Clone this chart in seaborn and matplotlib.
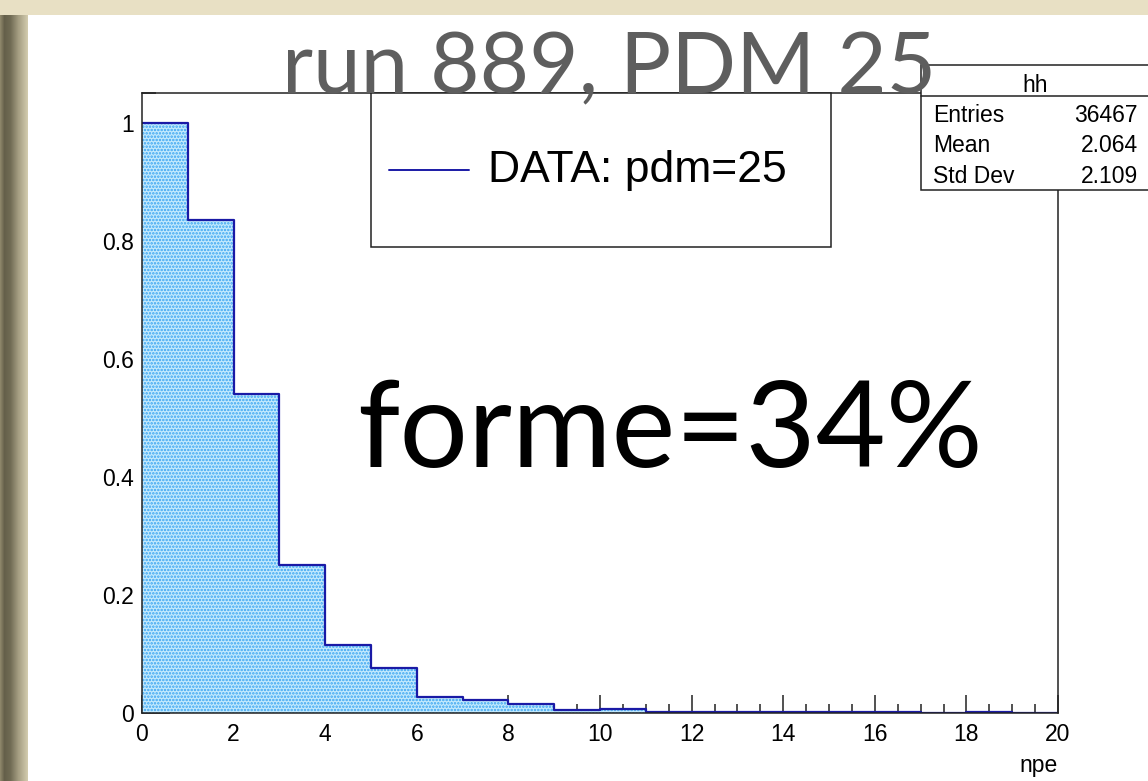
import numpy as np
import pandas as pd
import matplotlib
matplotlib.use("Agg")
import matplotlib.pyplot as plt
from matplotlib.patches import Rectangle
from matplotlib.ticker import MultipleLocator, FuncFormatter
import seaborn as sns

# Normalised npe distribution, one value per unit bin from 0 to 20
bin_edges = list(range(0, 21))
bin_heights = [1.0, 0.836, 0.541, 0.251, 0.115, 0.076, 0.027, 0.022, 0.015, 0.005,
               0.007, 0.002, 0.002, 0.002, 0.002, 0.002, 0.002, 0.0, 0.0015, 0.0]

title_text = "run 889, PDM 25"
legend_label = "DATA: pdm=25"
note_text = "forme=34%"
stats_name = "hh"
stats_labels = ["Entries", "Mean", "Std Dev"]
stats_values = ["36467", "2.064", "2.109"]

sns.set_theme(style="white")
plt.rcParams["font.family"] = ["Liberation Sans", "DejaVu Sans"]
plt.rcParams["hatch.linewidth"] = 1.2
plt.rcParams["text.color"] = "black"
plt.rcParams["xtick.color"] = "black"
plt.rcParams["ytick.color"] = "black"
plt.rcParams["axes.labelcolor"] = "black"

W, H = 1148, 781
fig = plt.figure(figsize=(W / 100, H / 100), dpi=100)

# slide background: parchment with a soft shadow on the left of the white panel
bg = fig.add_axes([0, 0, 1, 1], zorder=-10)
img = np.empty((H, W, 3))
img[:] = np.array([232, 224, 196]) / 255.0
xs = np.arange(W)
prof_x = [0, 4, 10, 18, 28]
for c, vals in enumerate(zip(*[(140, 133, 105), (100, 95, 74), (112, 107, 84), (165, 158, 130), (214, 207, 178)])):
    col = np.interp(xs, prof_x, vals) / 255.0
    img[15:, :28, c] = col[None, :28]
img[15:, 28:, :] = 1.0
bg.imshow(img, extent=[0, W, H, 0], aspect="auto", interpolation="bilinear")
bg.set_xlim(0, W)
bg.set_ylim(H, 0)
bg.axis("off")

# histogram axes
ax = fig.add_axes([142 / W, 68 / H, 916 / W, 620 / H])
centers = [(a + b) / 2 for a, b in zip(bin_edges[:-1], bin_edges[1:])]
df = pd.DataFrame({"npe": centers, "w": bin_heights})

sns.histplot(data=df, x="npe", weights="w", bins=bin_edges, element="bars",
             fill=True, color="#c4eafd", alpha=1.0, linewidth=0, ax=ax)
for p in ax.patches:
    p.set_hatch(".....")
    p.set_edgecolor("#39a4f2")
    p.set_linewidth(0)
sns.histplot(data=df, x="npe", weights="w", bins=bin_edges, element="step",
             fill=False, color="#1a1aa6", linewidth=1.6, ax=ax)

ax.set_xlim(0, 20)
ax.set_ylim(0, 1.0508)
ax.set_ylabel("")
ax.set_xlabel("npe", loc="right", fontsize=16.5, labelpad=6)
for s in ax.spines.values():
    s.set_color("#222222")
    s.set_linewidth(1.1)
    s.set_visible(True)
ax.xaxis.set_major_locator(MultipleLocator(2))
ax.xaxis.set_minor_locator(MultipleLocator(0.5))
ax.yaxis.set_major_locator(MultipleLocator(0.2))
ax.yaxis.set_minor_locator(MultipleLocator(0.05))
ax.xaxis.set_major_formatter(FuncFormatter(lambda v, p: "%g" % round(v, 3)))
ax.yaxis.set_major_formatter(FuncFormatter(lambda v, p: "%g" % round(v, 3)))
ax.tick_params(axis="x", which="major", direction="in", length=13, width=1.1,
               color="#222222", labelsize=16.5, pad=7, top=False, bottom=True)
ax.tick_params(axis="x", which="minor", direction="in", length=6.5, width=1.1,
               color="#222222", top=False, bottom=True)
ax.tick_params(axis="y", which="major", direction="in", length=20, width=1.1,
               color="#222222", labelsize=16.5, pad=6, right=False, left=True)
ax.tick_params(axis="y", which="minor", direction="in", length=10, width=1.1,
               color="#222222", right=False, left=True)
ax.grid(False)

# overlay in pixel coordinates for legend, stats box and slide text
ov = fig.add_axes([0, 0, 1, 1], zorder=5)
ov.set_xlim(0, W)
ov.set_ylim(H, 0)
ov.axis("off")
ov.patch.set_alpha(0)

# legend
ov.add_patch(Rectangle((371, 93), 460, 154, facecolor="white", edgecolor="#222222", lw=1.1, zorder=2))
ov.plot([389, 469], [170, 170], color="#1a1aa6", lw=1.4, zorder=3)
ov.text(488, 182, legend_label, fontsize=32, color="black", va="baseline", ha="left", zorder=3)

# statistics box
ov.add_patch(Rectangle((921, 65), 240, 125, facecolor="white", edgecolor="#222222", lw=1.1, zorder=2, clip_on=False))
ov.plot([921, 1161], [96, 96], color="#222222", lw=1.1, zorder=3)
ov.text(1035, 92, stats_name, fontsize=16.5, ha="center", va="baseline", zorder=3)
for i, (lab, val) in enumerate(zip(stats_labels, stats_values)):
    yb = 122 + i * 30.5
    ov.text(933, yb, lab, fontsize=16.5, ha="left", va="baseline", zorder=3)
    ov.text(1138, yb, val, fontsize=16.5, ha="right", va="baseline", zorder=3)

# slide title and annotation
ov.text(609, 93, title_text, fontsize=61.5, color="#5e5e5e", ha="center", va="baseline",
        family=["Lato", "DejaVu Sans"], zorder=6)
ov.text(357, 467, note_text, fontsize=87, color="black", ha="left", va="baseline",
        family=["Lato", "DejaVu Sans"], zorder=6)

fig.savefig("out.png", dpi=100)
